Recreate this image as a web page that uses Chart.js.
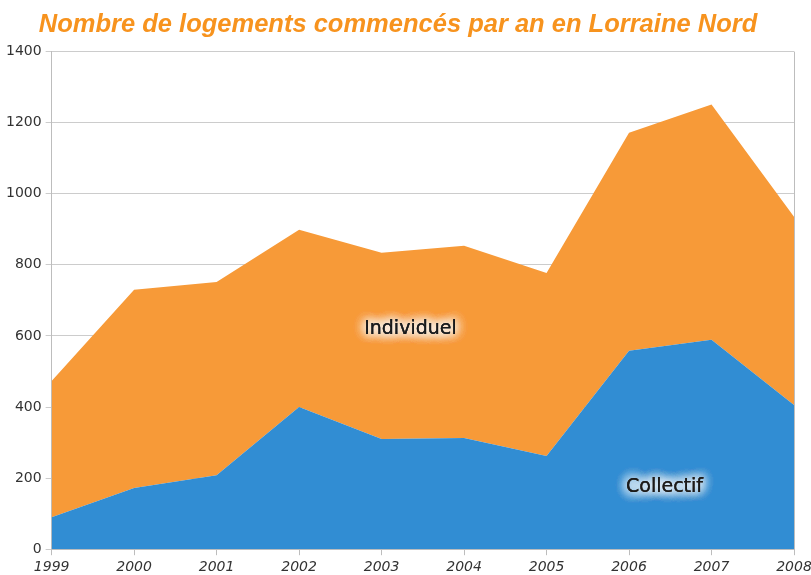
<!DOCTYPE html>
<html lang="fr">
<head>
<meta charset="UTF-8">
<title>Nombre de logements commencés par an en Lorraine Nord</title>
<script src="https://cdn.jsdelivr.net/npm/chart.js"></script>
<style>
    html, body { margin: 0; padding: 0; background: #fff; }
    #wrap { width: 811px; height: 575px; position: relative; }
</style>
</head>
<body>
<div id="wrap"><canvas id="chart"></canvas></div>
<script>
const years = ['1999', '2000', '2001', '2002', '2003', '2004', '2005', '2006', '2007', '2008'];
const collectif = [90, 172, 208, 400, 310, 313, 262, 558, 589, 406];
const individuel = [383, 558, 544, 499, 524, 541, 515, 614, 662, 529];
const yTicks = [0, 200, 400, 600, 800, 1000, 1200, 1400];

// labels written inside the areas, with a white glow (x = fractional category index)
const areaLabels = [
    { text: 'Individuel', x: 4.35, y: 620 },
    { text: 'Collectif', x: 7.43, y: 175 }
];

const glowLabels = {
    id: 'glowLabels',
    afterDatasetsDraw(chart) {
        const ctx = chart.ctx;
        const xs = chart.scales.x, ys = chart.scales.y;
        ctx.save();
        ctx.font = '19px "DejaVu Sans", sans-serif';
        ctx.textAlign = 'center';
        ctx.textBaseline = 'middle';
        areaLabels.forEach(l => {
            const i = Math.floor(l.x);
            const x0 = xs.getPixelForValue(i), x1 = xs.getPixelForValue(i + 1);
            const px = x0 + (x1 - x0) * (l.x - i);
            const py = ys.getPixelForValue(l.y);
            ctx.shadowColor = 'rgba(255,255,255,1)';
            ctx.shadowBlur = 12;
            ctx.fillStyle = '#1a1a1a';
            for (let k = 0; k < 6; k++) ctx.fillText(l.text, px, py);
        });
        ctx.restore();
    }
};

new Chart(document.getElementById('chart'), {
    type: 'line',
    data: {
        labels: years,
        datasets: [
            {
                label: 'Collectif',
                data: collectif,
                fill: 'origin',
                backgroundColor: '#318DD3',
                borderWidth: 0,
                pointRadius: 0,
                tension: 0
            },
            {
                label: 'Individuel',
                data: individuel,
                fill: '-1',
                backgroundColor: '#F79A38',
                borderWidth: 0,
                pointRadius: 0,
                tension: 0
            }
        ]
    },
    options: {
        responsive: true,
        maintainAspectRatio: false,
        animation: false,
        layout: { padding: { left: 2, right: 17, top: 0, bottom: -5 } },
        plugins: {
            legend: { display: false },
            tooltip: { enabled: false },
            title: {
                display: true,
                text: 'Nombre de logements commencés par an en Lorraine Nord',
                color: '#F7931E',
                font: { family: '"Liberation Sans", sans-serif', size: 25.5, weight: 'bold', style: 'italic' },
                padding: { top: 10, bottom: 11 },
                align: 'center'
            }
        },
        scales: {
            x: {
                offset: false,
                z: 1,
                afterFit(s) { s.paddingRight = 0; },
                grid: { display: true, drawOnChartArea: false, color: '#bdbdbd', tickLength: 6 },
                border: { color: '#bdbdbd' },
                ticks: {
                    color: '#333',
                    font: { family: '"DejaVu Sans", sans-serif', size: 14, style: 'italic' },
                    maxRotation: 0,
                    autoSkip: false,
                    padding: 4
                }
            },
            y: {
                stacked: true,
                min: 0,
                max: 1400,
                z: 1,
                afterBuildTicks(axis) { axis.ticks = yTicks.map(v => ({ value: v })); },
                grid: { color: 'rgba(110,110,110,0.35)', tickLength: 6 },
                border: { color: '#bdbdbd' },
                ticks: {
                    color: '#333',
                    font: { family: '"DejaVu Sans", sans-serif', size: 14 },
                    padding: 4,
                    callback: v => String(v)
                }
            }
        }
    },
    plugins: [glowLabels, {
        id: 'rightEdge',
        afterDraw(chart) {
            const a = chart.chartArea, ctx = chart.ctx;
            ctx.save();
            ctx.strokeStyle = '#bdbdbd';
            ctx.lineWidth = 1;
            ctx.beginPath();
            ctx.moveTo(a.right + 0.5, a.top);
            ctx.lineTo(a.right + 0.5, a.bottom);
            ctx.stroke();
            ctx.restore();
        }
    }]
});
</script>
</body>
</html>
